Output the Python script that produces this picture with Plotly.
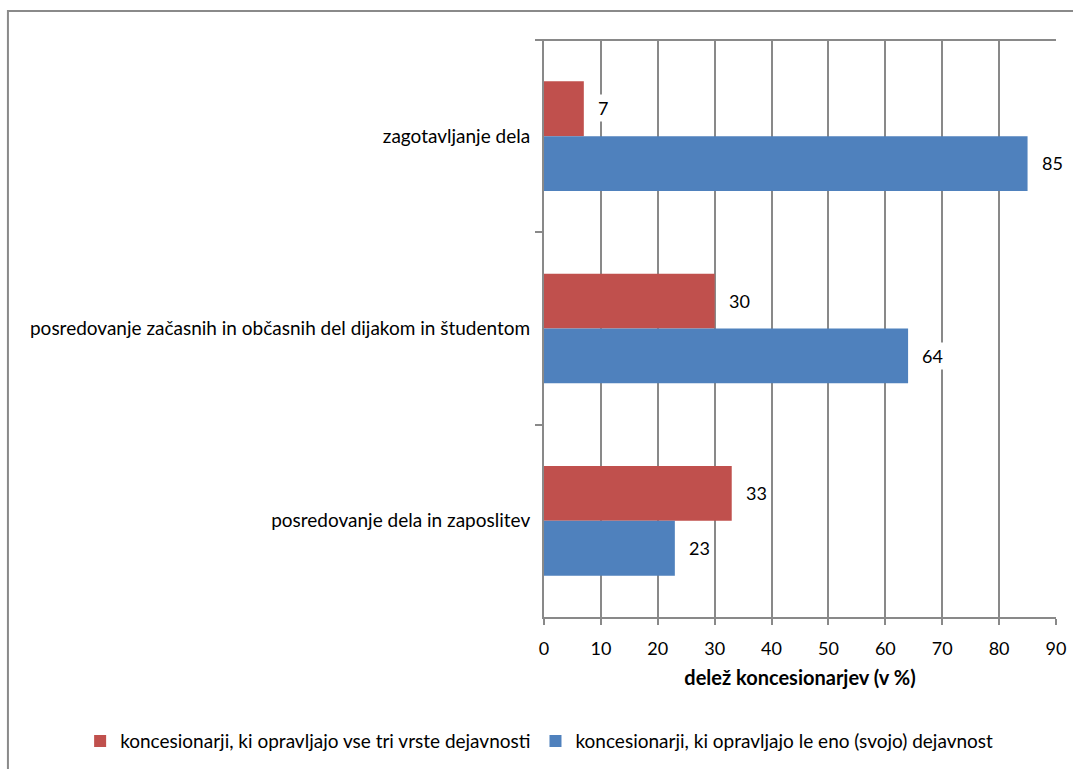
import plotly.graph_objects as go

# Categories listed top to bottom
categories = [
    "zagotavljanje dela",
    "posredovanje začasnih in občasnih del dijakom in študentom",
    "posredovanje dela in zaposlitev",
]
series_names = [
    "koncesionarji, ki opravljajo vse tri vrste dejavnosti",
    "koncesionarji, ki opravljajo le eno (svojo) dejavnost",
]
values_all_three = [7, 30, 33]
values_single = [85, 64, 23]
x_ticks = [0, 10, 20, 30, 40, 50, 60, 70, 80, 90]
x_title = "delež koncesionarjev (v %)"

RED = "#C0504D"
BLUE = "#4F81BD"
GRID = "#898989"
FONT = "Lato"
FS = 18

fig = go.Figure()
fig.add_trace(go.Bar(y=categories, x=values_all_three, name=series_names[0],
                     orientation="h", marker=dict(color=RED, line=dict(width=0))))
fig.add_trace(go.Bar(y=categories, x=values_single, name=series_names[1],
                     orientation="h", marker=dict(color=BLUE, line=dict(width=0))))

# value labels with white background, beside each bar end
annotations = []
for vals, shift in ((values_all_three, 28), (values_single, -27)):
    for cat, v in zip(categories, vals):
        annotations.append(dict(
            x=v, y=cat, xref="x", yref="y", text=str(v), showarrow=False,
            xanchor="left", yanchor="middle", xshift=11, yshift=shift,
            bgcolor="white", borderpad=2,
            font=dict(family=FONT, size=FS, color="black"),
        ))

fig.update_layout(
    width=1073, height=769,
    margin=dict(l=544, r=17, t=40, b=152, autoexpand=False),
    paper_bgcolor="white", plot_bgcolor="white",
    barmode="group", bargap=0.43, bargroupgap=0,
    font=dict(family=FONT, size=FS, color="black"),
    showlegend=True,
    # anchored left of the plot area so the two entries fit on one row
    legend=dict(orientation="h", xref="paper", yref="paper",
                x=-0.906, xanchor="left", y=-0.215, yanchor="middle",
                font=dict(family=FONT, size=19, color="black"),
                itemwidth=30, traceorder="normal", tracegroupgap=0),
    annotations=annotations,
    shapes=[
        # top border of plot area
        dict(type="line", xref="paper", yref="paper", x0=-7 / 512, x1=1, y0=1, y1=1,
             line=dict(color=GRID, width=2)),
        # outer chart frame
        dict(type="rect", xref="paper", yref="paper", x0=-1.047, x1=1.2,
             y0=-0.5, y1=1.0503, line=dict(color="#8a8a8a", width=2), layer="below"),
    ],
)
fig.update_xaxes(
    range=[0, 90], tickvals=x_ticks, showgrid=True, gridcolor=GRID, gridwidth=2,
    zeroline=False, showline=True, linecolor=GRID, linewidth=2,
    ticks="outside", ticklen=6, tickcolor=GRID, tickwidth=2, ticklabelstandoff=8,
    tickfont=dict(family=FONT, size=FS, color="black"),
    title=dict(text="<b>" + x_title + "</b>", standoff=13,
               font=dict(family=FONT, size=20, color="black")),
    automargin=False,
)
fig.update_yaxes(
    autorange="reversed", showgrid=False, zeroline=False,
    showline=True, linecolor=GRID, linewidth=2,
    ticks="outside", tickson="boundaries", ticklen=7, tickcolor=GRID, tickwidth=2,
    ticklabelstandoff=8,
    tickfont=dict(family=FONT, size=19, color="black"),
    automargin=False,
)

fig.write_html("out.html")
